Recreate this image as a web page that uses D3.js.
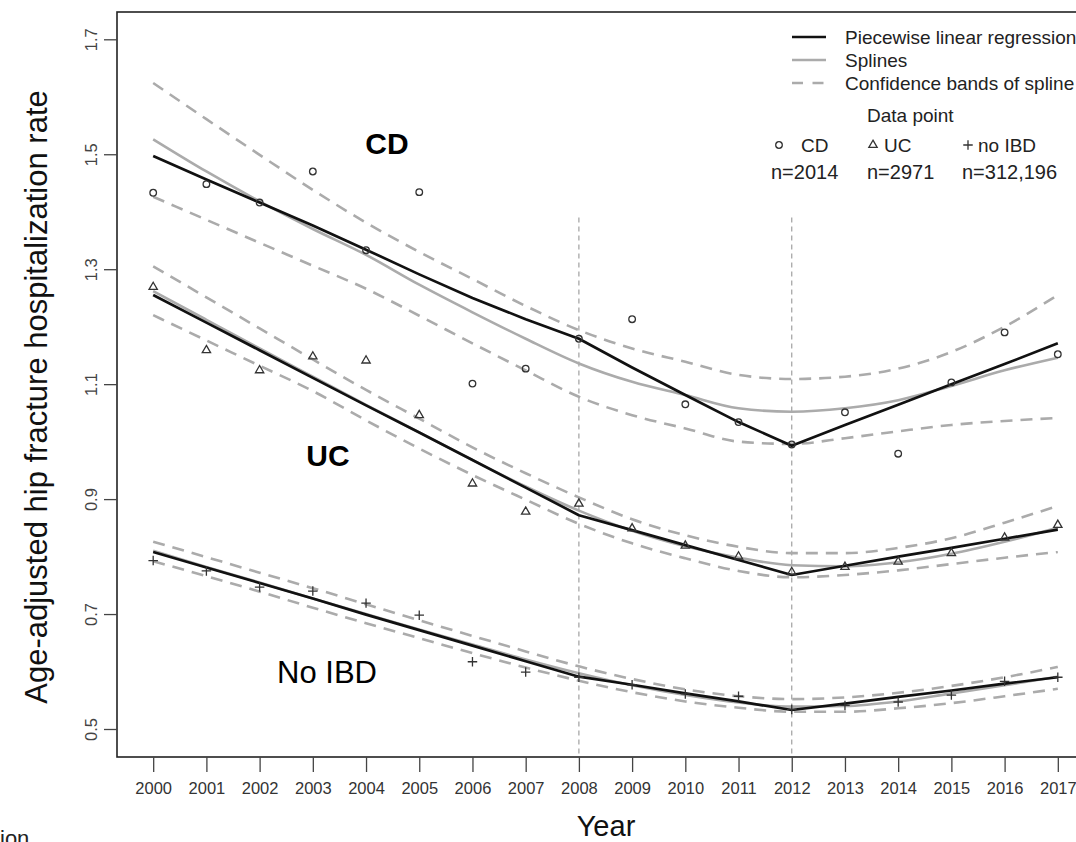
<!DOCTYPE html>
<html>
<head>
<meta charset="utf-8">
<script src="https://cdn.jsdelivr.net/npm/d3@7"></script>
<style>
  body { margin: 0; background: #fff; }
  text { font-family: "Liberation Sans", Arial, Helvetica, sans-serif; }
</style>
</head>
<body>
<div id="chart"></div>
<script>
// data
var years = [2000, 2001, 2002, 2003, 2004, 2005, 2006, 2007, 2008,
             2009, 2010, 2011, 2012, 2013, 2014, 2015, 2016, 2017];
var yTicks = [0.5, 0.7, 0.9, 1.1, 1.3, 1.5, 1.7];
var breakYears = [2008, 2012];
var breakTop = 1.39;

// observed age-adjusted rates
var cdPoints    = [1.433, 1.448, 1.416, 1.470, 1.333, 1.434, 1.101, 1.127, 1.179,
                   1.213, 1.065, 1.034, 0.995, 1.051, 0.979, 1.103, 1.190, 1.152];
var ucPoints    = [1.269, 1.159, 1.124, 1.148, 1.141, 1.046, 0.927, 0.878, 0.892,
                   0.849, 0.819, 0.800, 0.773, 0.782, 0.791, 0.806, 0.833, 0.855];
var noIbdPoints = [0.793, 0.775, 0.747, 0.740, 0.719, 0.698, 0.617, 0.599, 0.590,
                   0.577, 0.561, 0.557, 0.534, 0.541, 0.547, 0.559, 0.583, 0.590];

// piecewise linear regression
var cdFit    = [1.497, 1.456, 1.416, 1.376, 1.334, 1.291, 1.250, 1.213, 1.179,
                1.129, 1.081, 1.034, 0.993, 1.029, 1.064, 1.100, 1.135, 1.171];
var ucFit    = [1.255, 1.207, 1.159, 1.111, 1.063, 1.016, 0.968, 0.920, 0.872,
                0.846, 0.820, 0.794, 0.768, 0.784, 0.800, 0.815, 0.831, 0.847];
var noIbdFit = [0.808, 0.781, 0.754, 0.727, 0.699, 0.672, 0.645, 0.618, 0.591,
                0.577, 0.562, 0.548, 0.533, 0.544, 0.556, 0.567, 0.579, 0.590];

// splines
var cdSpline    = [1.526, 1.470, 1.418, 1.370, 1.325, 1.273, 1.225, 1.179, 1.136,
                   1.104, 1.081, 1.058, 1.052, 1.058, 1.072, 1.097, 1.124, 1.146];
var ucSpline    = [1.262, 1.212, 1.162, 1.113, 1.064, 1.016, 0.968, 0.922, 0.880,
                   0.845, 0.818, 0.798, 0.785, 0.783, 0.790, 0.805, 0.826, 0.850];
var noIbdSpline = [0.810, 0.782, 0.755, 0.727, 0.700, 0.673, 0.647, 0.621, 0.597,
                   0.576, 0.559, 0.546, 0.539, 0.540, 0.548, 0.562, 0.576, 0.591];

// confidence bands of splines
var cdUpper    = [1.624, 1.561, 1.499, 1.438, 1.381, 1.330, 1.283, 1.236, 1.194,
                  1.162, 1.139, 1.116, 1.109, 1.113, 1.127, 1.156, 1.200, 1.255];
var cdLower    = [1.426, 1.386, 1.346, 1.306, 1.266, 1.219, 1.171, 1.124, 1.078,
                  1.046, 1.023, 1.000, 0.996, 1.006, 1.018, 1.029, 1.036, 1.041];
var ucUpper    = [1.305, 1.251, 1.197, 1.143, 1.090, 1.040, 0.990, 0.945, 0.903,
                  0.865, 0.837, 0.817, 0.806, 0.806, 0.815, 0.832, 0.859, 0.888];
var ucLower    = [1.220, 1.176, 1.132, 1.088, 1.037, 0.988, 0.942, 0.899, 0.857,
                  0.823, 0.797, 0.775, 0.764, 0.768, 0.776, 0.787, 0.798, 0.808];
var noIbdUpper = [0.826, 0.799, 0.772, 0.745, 0.717, 0.689, 0.662, 0.635, 0.609,
                  0.587, 0.569, 0.557, 0.552, 0.555, 0.563, 0.575, 0.590, 0.608];
var noIbdLower = [0.792, 0.766, 0.739, 0.711, 0.684, 0.658, 0.632, 0.607, 0.584,
                  0.564, 0.548, 0.537, 0.530, 0.530, 0.536, 0.545, 0.557, 0.570];

var width = 1076, height = 842;
var box = {left: 117, top: 12, right: 1094, bottom: 757};

var svg = d3.select("#chart")
  .append("svg")
    .attr("width", width)
    .attr("height", height)
    .style("display", "block");

svg.append("rect").attr("width", width).attr("height", height).attr("fill", "#fff");

var x = d3.scaleLinear()
  .domain([1999.32, 2017.68])
  .range([box.left, box.right]);

var y = d3.scaleLinear()
  .domain([0.5, 1.7])
  .range([729, 39.3]);

function zip(vals) {
  return years.map(function(yr, i) { return {year: yr, v: vals[i]}; });
}

var straight = d3.line()
  .x(function(d) { return x(d.year); })
  .y(function(d) { return y(d.v); });

var smooth = d3.line()
  .curve(d3.curveMonotoneX)
  .x(function(d) { return x(d.year); })
  .y(function(d) { return y(d.v); });

// break point lines
svg.append("g")
  .selectAll("line")
  .data(breakYears)
  .enter()
  .append("line")
    .attr("x1", function(d) { return x(d); })
    .attr("x2", function(d) { return x(d); })
    .attr("y1", y(breakTop))
    .attr("y2", box.bottom)
    .attr("stroke", "#a0a0a0")
    .attr("stroke-width", 1.2)
    .attr("stroke-dasharray", "5,4");

// confidence bands
var bands = [cdUpper, cdLower, ucUpper, ucLower, noIbdUpper, noIbdLower];
svg.append("g")
  .selectAll("path")
  .data(bands)
  .enter()
  .append("path")
    .attr("d", function(d) { return smooth(zip(d)); })
    .attr("fill", "none")
    .attr("stroke", "#ababab")
    .attr("stroke-width", 2.6)
    .attr("stroke-dasharray", "12,8");

// splines
svg.append("g")
  .selectAll("path")
  .data([cdSpline, ucSpline, noIbdSpline])
  .enter()
  .append("path")
    .attr("d", function(d) { return smooth(zip(d)); })
    .attr("fill", "none")
    .attr("stroke", "#ababab")
    .attr("stroke-width", 2.6);

// piecewise regression
svg.append("g")
  .selectAll("path")
  .data([cdFit, ucFit, noIbdFit])
  .enter()
  .append("path")
    .attr("d", function(d) { return straight(zip(d)); })
    .attr("fill", "none")
    .attr("stroke", "#111")
    .attr("stroke-width", 2.7)
    .attr("stroke-linejoin", "round");

// thin plus symbol like R pch 3
var plusSymbol = {
  draw: function(ctx, size) {
    var r = Math.sqrt(size) / 2;
    ctx.moveTo(-r, 0); ctx.lineTo(r, 0);
    ctx.moveTo(0, -r); ctx.lineTo(0, r);
  }
};

var pointSets = [
  {vals: cdPoints, type: d3.symbolCircle, size: 34},
  {vals: ucPoints, type: d3.symbolTriangle, size: 30},
  {vals: noIbdPoints, type: plusSymbol, size: 90}
];

pointSets.forEach(function(p) {
  svg.append("g")
    .selectAll("path")
    .data(zip(p.vals))
    .enter()
    .append("path")
      .attr("transform", function(d) { return "translate(" + x(d.year) + "," + y(d.v) + ")"; })
      .attr("d", d3.symbol().type(p.type).size(p.size))
      .attr("fill", "none")
      .attr("stroke", "#333")
      .attr("stroke-width", 1.3);
});

// box
svg.append("rect")
  .attr("x", box.left)
  .attr("y", box.top)
  .attr("width", box.right - box.left)
  .attr("height", box.bottom - box.top)
  .attr("fill", "none")
  .attr("stroke", "#222")
  .attr("stroke-width", 1.6);

// Y axis
var yAxis = svg.append("g")
  .attr("transform", "translate(" + box.left + ",0)")
  .call(d3.axisLeft(y).tickValues(yTicks).tickSize(13).tickFormat(d3.format(".1f")));
yAxis.select(".domain").remove();
yAxis.selectAll(".tick line").attr("stroke", "#444").attr("stroke-width", 1.3);
yAxis.selectAll(".tick text")
  .attr("transform", "rotate(-90)")
  .attr("x", 0)
  .attr("y", -20)
  .attr("dy", 0)
  .attr("text-anchor", "middle")
  .attr("fill", "#444")
  .style("font-size", "16.5px")
  .style("font-family", "'Liberation Sans', Arial, sans-serif");

// X axis
var xAxis = svg.append("g")
  .attr("transform", "translate(0," + box.bottom + ")")
  .call(d3.axisBottom(x).tickValues(years).tickSize(15).tickFormat(d3.format("d")));
xAxis.select(".domain").remove();
xAxis.selectAll(".tick line").attr("stroke", "#444").attr("stroke-width", 1.3);
xAxis.selectAll(".tick text")
  .attr("y", 37)
  .attr("dy", 0)
  .attr("fill", "#333")
  .style("font-size", "16.5px")
  .style("font-family", "'Liberation Sans', Arial, sans-serif");

// axis titles
svg.append("text")
  .attr("transform", "translate(47,397) rotate(-90)")
  .attr("text-anchor", "middle")
  .style("font-size", "31px")
  .attr("fill", "#111")
  .text("Age-adjusted hip fracture hospitalization rate");

svg.append("text")
  .attr("x", 606)
  .attr("y", 836)
  .attr("text-anchor", "middle")
  .style("font-size", "29px")
  .attr("fill", "#111")
  .text("Year");

// group labels
svg.append("text").attr("x", 387).attr("y", 154).attr("text-anchor", "middle")
  .style("font-size", "30px").style("font-weight", "bold").text("CD");
svg.append("text").attr("x", 328).attr("y", 466).attr("text-anchor", "middle")
  .style("font-size", "30px").style("font-weight", "bold").text("UC");
svg.append("text").attr("x", 327).attr("y", 683).attr("text-anchor", "middle")
  .style("font-size", "31px").text("No IBD");

// legend
var legendRows = [
  {label: "Piecewise linear regression", color: "#111", dash: null},
  {label: "Splines", color: "#ababab", dash: null},
  {label: "Confidence bands of spline", color: "#ababab", dash: "11,9.5"}
];
var legend = svg.append("g");
legendRows.forEach(function(r, i) {
  var ly = 37 + i * 23;
  legend.append("line")
    .attr("x1", 792).attr("x2", 826)
    .attr("y1", ly).attr("y2", ly)
    .attr("stroke", r.color)
    .attr("stroke-width", 2.6)
    .attr("stroke-dasharray", r.dash);
  legend.append("text")
    .attr("x", 845).attr("y", ly + 7)
    .style("font-size", "19px")
    .attr("fill", "#222")
    .text(r.label);
});

legend.append("text").attr("x", 867).attr("y", 122)
  .style("font-size", "19px").attr("fill", "#222").text("Data point");

var dataKey = [
  {label: "CD", n: "n=2014", type: d3.symbolCircle, size: 34, sx: 779, tx: 801, nx: 771},
  {label: "UC", n: "n=2971", type: d3.symbolTriangle, size: 30, sx: 873, tx: 884, nx: 867},
  {label: "no IBD", n: "n=312,196", type: plusSymbol, size: 90, sx: 968, tx: 978, nx: 962}
];
dataKey.forEach(function(k) {
  legend.append("path")
    .attr("transform", "translate(" + k.sx + ",145)")
    .attr("d", d3.symbol().type(k.type).size(k.size))
    .attr("fill", "none")
    .attr("stroke", "#333")
    .attr("stroke-width", 1.3);
  legend.append("text").attr("x", k.tx).attr("y", 152)
    .style("font-size", "19px").attr("fill", "#222").text(k.label);
  legend.append("text").attr("x", k.nx).attr("y", 179)
    .style("font-size", "20px").attr("fill", "#222").text(k.n);
});

// cut-off caption text at the bottom edge
svg.append("text").attr("x", 0).attr("y", 846)
  .style("font-size", "22px").attr("fill", "#222").text("ion");
</script>
</body>
</html>
